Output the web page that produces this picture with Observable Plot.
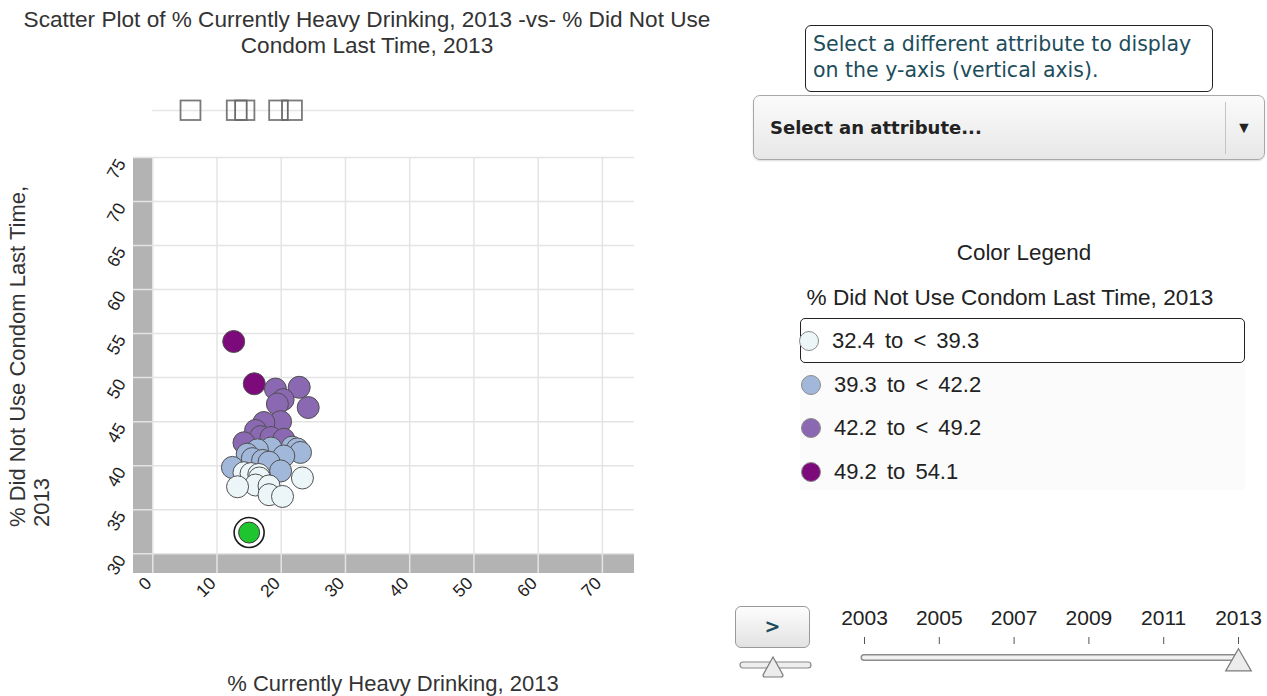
<!DOCTYPE html>
<html><head><meta charset="utf-8">
<script src="https://cdn.jsdelivr.net/npm/d3@7"></script>
<script src="https://cdn.jsdelivr.net/npm/@observablehq/plot@0.6"></script>
<style>
html,body{margin:0;padding:0;background:#fff}
body{width:1267px;height:696px;position:relative;overflow:hidden;font-family:"Liberation Sans",Arial,sans-serif;color:#333}
.abs{position:absolute}
#title{left:0;top:7px;width:734px;text-align:center;font-size:22.6px;line-height:26px;color:#333}
#ylab{left:6px;top:527px;width:400px;transform-origin:0 0;transform:rotate(-90deg);font-size:22px;line-height:24px;color:#333;white-space:nowrap}
#xlab{left:193px;top:671px;width:400px;text-align:center;font-size:22px;line-height:26px;color:#333}
#tip{left:805px;top:25px;width:408px;height:67px;border:1.5px solid #222;border-radius:6px;box-sizing:border-box;font-family:"DejaVu Sans",Verdana,sans-serif;font-size:20.5px;line-height:26px;color:#1d4d5b;padding:5px 0 0 7px;background:#fff;white-space:nowrap}
#dd{left:753px;top:95px;width:512px;height:65px;border:1px solid #a8a8a8;border-radius:7px;box-sizing:border-box;background:linear-gradient(#fbfbfb,#e7e7e7);box-shadow:0 1px 2px rgba(0,0,0,0.15)}
#ddtext{left:16px;top:0;line-height:63px;font-family:"DejaVu Sans",Verdana,sans-serif;font-weight:bold;font-size:18px;color:#222}
#ddsep{left:471px;top:6px;width:1px;height:52px;background:#c4c4c4}
#ddarrow{left:482px;top:0;line-height:63px;font-size:16px;color:#222}
#legtitle{left:760px;top:240px;width:528px;text-align:center;font-size:22.4px;line-height:26px;color:#222}
#legsub{left:760px;top:285px;width:500px;text-align:center;font-size:22.6px;line-height:26px;color:#222}
#legrows{left:800px;top:318px;width:445px}
.row{position:relative;height:43.5px;display:flex;align-items:center;font-size:22px;color:#222;word-spacing:4px}
.row .sw{width:18px;height:18px;border-radius:50%;border:1px solid #8a8a8a;margin-left:1px;margin-right:13px;flex:none}
.row.sel{border:1.5px solid #222;border-radius:5px;box-sizing:border-box;height:45px}
.row.sel .sw{margin-left:-2px}
#restbg{left:800px;top:363px;width:445px;height:127px;background:#fbfbfb}
#play{left:735px;top:606px;width:75px;height:42px;border:1px solid #999;border-radius:6px;box-sizing:border-box;background:linear-gradient(#fdfdfd,#e2e2e2);text-align:center;line-height:38px;font-family:"DejaVu Sans",sans-serif;font-weight:bold;font-size:19px;color:#1d4d5b}
#mini{left:739px;top:653px}
</style></head>
<body>
<script>
// ---------- data ----------
const heavyDrinking = [12.6, 15.8, 19.1, 22.8, 20.3, 19.4, 24.2, 19.9, 17.3, 16.0, 16.8, 18.4, 20.4, 14.2,
  21.7, 22.5, 23.0, 18.4, 16.3, 14.7, 20.4, 17.1, 18.1, 12.4, 19.9, 15.5,
  14.2, 15.3, 16.5, 16.6, 23.3, 13.2, 16.0, 18.1, 18.1, 20.2];
const noCondom = [54.1, 49.3, 48.7, 48.9, 47.5, 47.0, 46.6, 45.0, 44.9, 44.0, 43.3, 43.2, 43.0, 42.6,
  42.1, 41.9, 41.5, 42.0, 41.8, 41.3, 41.1, 40.6, 40.4, 39.8, 39.4, 40.8,
  39.2, 39.1, 39.0, 38.6, 38.6, 37.6, 37.8, 37.7, 36.7, 36.5];
const selectedX = [15.0];
const selectedY = [32.4];
const binThresholds = [39.3, 42.2, 49.2];
const binLabels = ["32.4 to < 39.3", "39.3 to < 42.2", "42.2 to < 49.2", "49.2 to 54.1"];
const binColors = ["#ecf6f9", "#a2b8da", "#8a68b2", "#7d0a7b"];
const xTicks = [0, 10, 20, 30, 40, 50, 60, 70];
const yTicks = [30, 35, 40, 45, 50, 55, 60, 65, 70, 75];
const glyphLo = [4.4, 11.6, 18.2];
const glyphHi = [7.5, 15.9, 23.3];
const glyphInnerLo = [12.9, 20.2];
const glyphInnerHi = [14.7, 21.1];
const years = [2003, 2005, 2007, 2009, 2011, 2013];
const currentYear = 2013;

const titleText = ["Scatter Plot of % Currently Heavy Drinking, 2013 -vs- % Did Not Use", "Condom Last Time, 2013"];
const yLabelText = ["% Did Not Use Condom Last Time,", "2013"];
const xLabelText = "% Currently Heavy Drinking, 2013";

// scale extents (axis bands included)
const xMin = -3, xMax = 75, yMin = 27.75, yMax = 75;

// ---------- main scatter ----------
const points = heavyDrinking.map((x, i) => ({x, y: noCondom[i]})).sort((a, b) => b.y - a.y);
const selected = selectedX.map((x, i) => ({x, y: selectedY[i]}));
const font = {fontFamily: "Liberation Sans, Arial, sans-serif", fontSize: "17px", color: "#333", background: "transparent", overflow: "visible"};

const mainPlot = Plot.plot({
  width: 650, height: 600,
  marginLeft: 133, marginRight: 16, marginTop: 157, marginBottom: 27,
  style: font,
  x: {domain: [xMin, xMax], label: null},
  y: {domain: [yMin, yMax], label: null},
  color: {type: "threshold", domain: binThresholds, range: binColors},
  marks: [
    Plot.rect([0], {x1: xMin, x2: 0, y1: yMin, y2: yMax, fill: "#b3b3b3"}),
    Plot.rect([0], {x1: xMin, x2: xMax, y1: yMin, y2: yTicks[0], fill: "#b3b3b3"}),
    Plot.gridX(xTicks, {stroke: "#e4e4e4", strokeOpacity: 1, strokeWidth: 1.5}),
    Plot.gridY(yTicks, {stroke: "#e4e4e4", strokeOpacity: 1, strokeWidth: 1.5}),
    Plot.axisX(xTicks, {tickSize: 0, tickPadding: 6, tickRotate: -45, dx: -4, dy: 1, fontSize: 17.5, fill: "#222"}),
    Plot.axisY(yTicks, {tickSize: 0, tickPadding: 12, tickRotate: -60, dy: 3, fontSize: 17.5, fill: "#222"}),
    Plot.dot(points, {x: "x", y: "y", r: 11, fill: "y", stroke: "#505050", strokeWidth: 1}),
    Plot.dot(selected, {x: "x", y: "y", r: 15, fill: "#fff", stroke: "#1a1a1a", strokeWidth: 1.6}),
    Plot.dot(selected, {x: "x", y: "y", r: 10.5, fill: "#1ec52e", stroke: "#3a3a3a", strokeWidth: 1})
  ]
});
mainPlot.classList.add("abs"); mainPlot.style.left = "0px"; mainPlot.style.top = "0px";
document.body.appendChild(mainPlot);

// ---------- marginal glyphs above ----------
const glyphs = glyphLo.map((lo, i) => ({lo, hi: glyphHi[i]}));
const inner = glyphInnerLo.map((lo, i) => ({lo, hi: glyphInnerHi[i]}));
const glyphPlot = Plot.plot({
  width: 650, height: 40,
  marginLeft: 133, marginRight: 16, marginTop: 0, marginBottom: 0,
  style: font,
  x: {domain: [xMin, xMax], axis: null},
  y: {domain: [0, 1], axis: null},
  marks: [
    Plot.ruleY([0.5], {x1: 0, x2: xMax, stroke: "#e6e6e6", strokeWidth: 1.5}),
    Plot.rect(glyphs, {x1: "lo", x2: "hi", insetTop: 10.5, insetBottom: 10, fill: "none", stroke: "#7a7a7a", strokeWidth: 1.8}),
    Plot.rect(inner, {x1: "lo", x2: "hi", insetTop: 10.5, insetBottom: 10, fill: "none", stroke: "#6a6a6a", strokeWidth: 1.8})
  ]
});
glyphPlot.classList.add("abs"); glyphPlot.style.left = "0px"; glyphPlot.style.top = "90px";
document.body.appendChild(glyphPlot);

// ---------- time slider ----------
const timeline = Plot.plot({
  width: 437, height: 85,
  marginLeft: 34, marginRight: 29, marginTop: 48, marginBottom: 9,
  style: {fontFamily: "Liberation Sans, Arial, sans-serif", fontSize: "21px", color: "#222", background: "transparent", overflow: "visible"},
  x: {domain: [years[0], years[years.length - 1]], label: null},
  y: {domain: [0, 1], axis: null},
  marks: [
    Plot.axisX(years, {anchor: "top", tickSize: 7, tickPadding: 12, tickFormat: "d", fontSize: 21, stroke: "#555", fill: "#222"}),
    Plot.ruleY([0.5], {x1: years[0], x2: years[years.length - 1], stroke: "#8c8c8c", strokeWidth: 7, strokeLinecap: "round"}),
    Plot.ruleY([0.5], {x1: years[0], x2: years[years.length - 1], stroke: "#f1f1f1", strokeWidth: 4, strokeLinecap: "round"}),
    Plot.dot([currentYear], {x: d => d, y: 0.5, dy: 6, symbol: "triangle", r: 9.5, fill: "#ececec", stroke: "#7a7a7a", strokeWidth: 1.2})
  ]
});
timeline.classList.add("abs"); timeline.style.left = "830px"; timeline.style.top = "595px";
document.body.appendChild(timeline);

// ---------- HTML text & widgets ----------
function div(id, html) { const d = document.createElement("div"); d.id = id; d.className = "abs"; d.innerHTML = html; document.body.appendChild(d); return d; }
div("title", titleText.join("<br>"));
div("ylab", yLabelText.join("<br>"));
div("xlab", xLabelText);
div("tip", "Select a different attribute to display<br>on the y-axis (vertical axis).");
const dd = div("dd", "");
dd.innerHTML = '<div id="ddtext" class="abs">Select an attribute...</div><div id="ddsep" class="abs"></div><div id="ddarrow" class="abs">&#9660;</div>';
div("legtitle", "Color Legend");
div("legsub", "% Did Not Use Condom Last Time, 2013");
div("restbg", "");
const rows = div("legrows", "");
binLabels.forEach((lab, i) => {
  const r = document.createElement("div");
  r.className = "row" + (i === 0 ? " sel" : "");
  r.innerHTML = `<span class="sw" style="background:${binColors[i]}"></span><span>${lab.replace("<", "&lt;")}</span>`;
  rows.appendChild(r);
});
div("play", "&gt;");
div("mini", '<svg width="74" height="26"><rect x="1" y="9" width="71" height="6" rx="3" fill="#eee" stroke="#888" stroke-width="1.2"/><path d="M34 4 L44 22 Q44 24 42 24 L26 24 Q24 24 24 22 Z" fill="#ececec" stroke="#7a7a7a" stroke-width="1.2"/></svg>');
</script>
</body></html>
